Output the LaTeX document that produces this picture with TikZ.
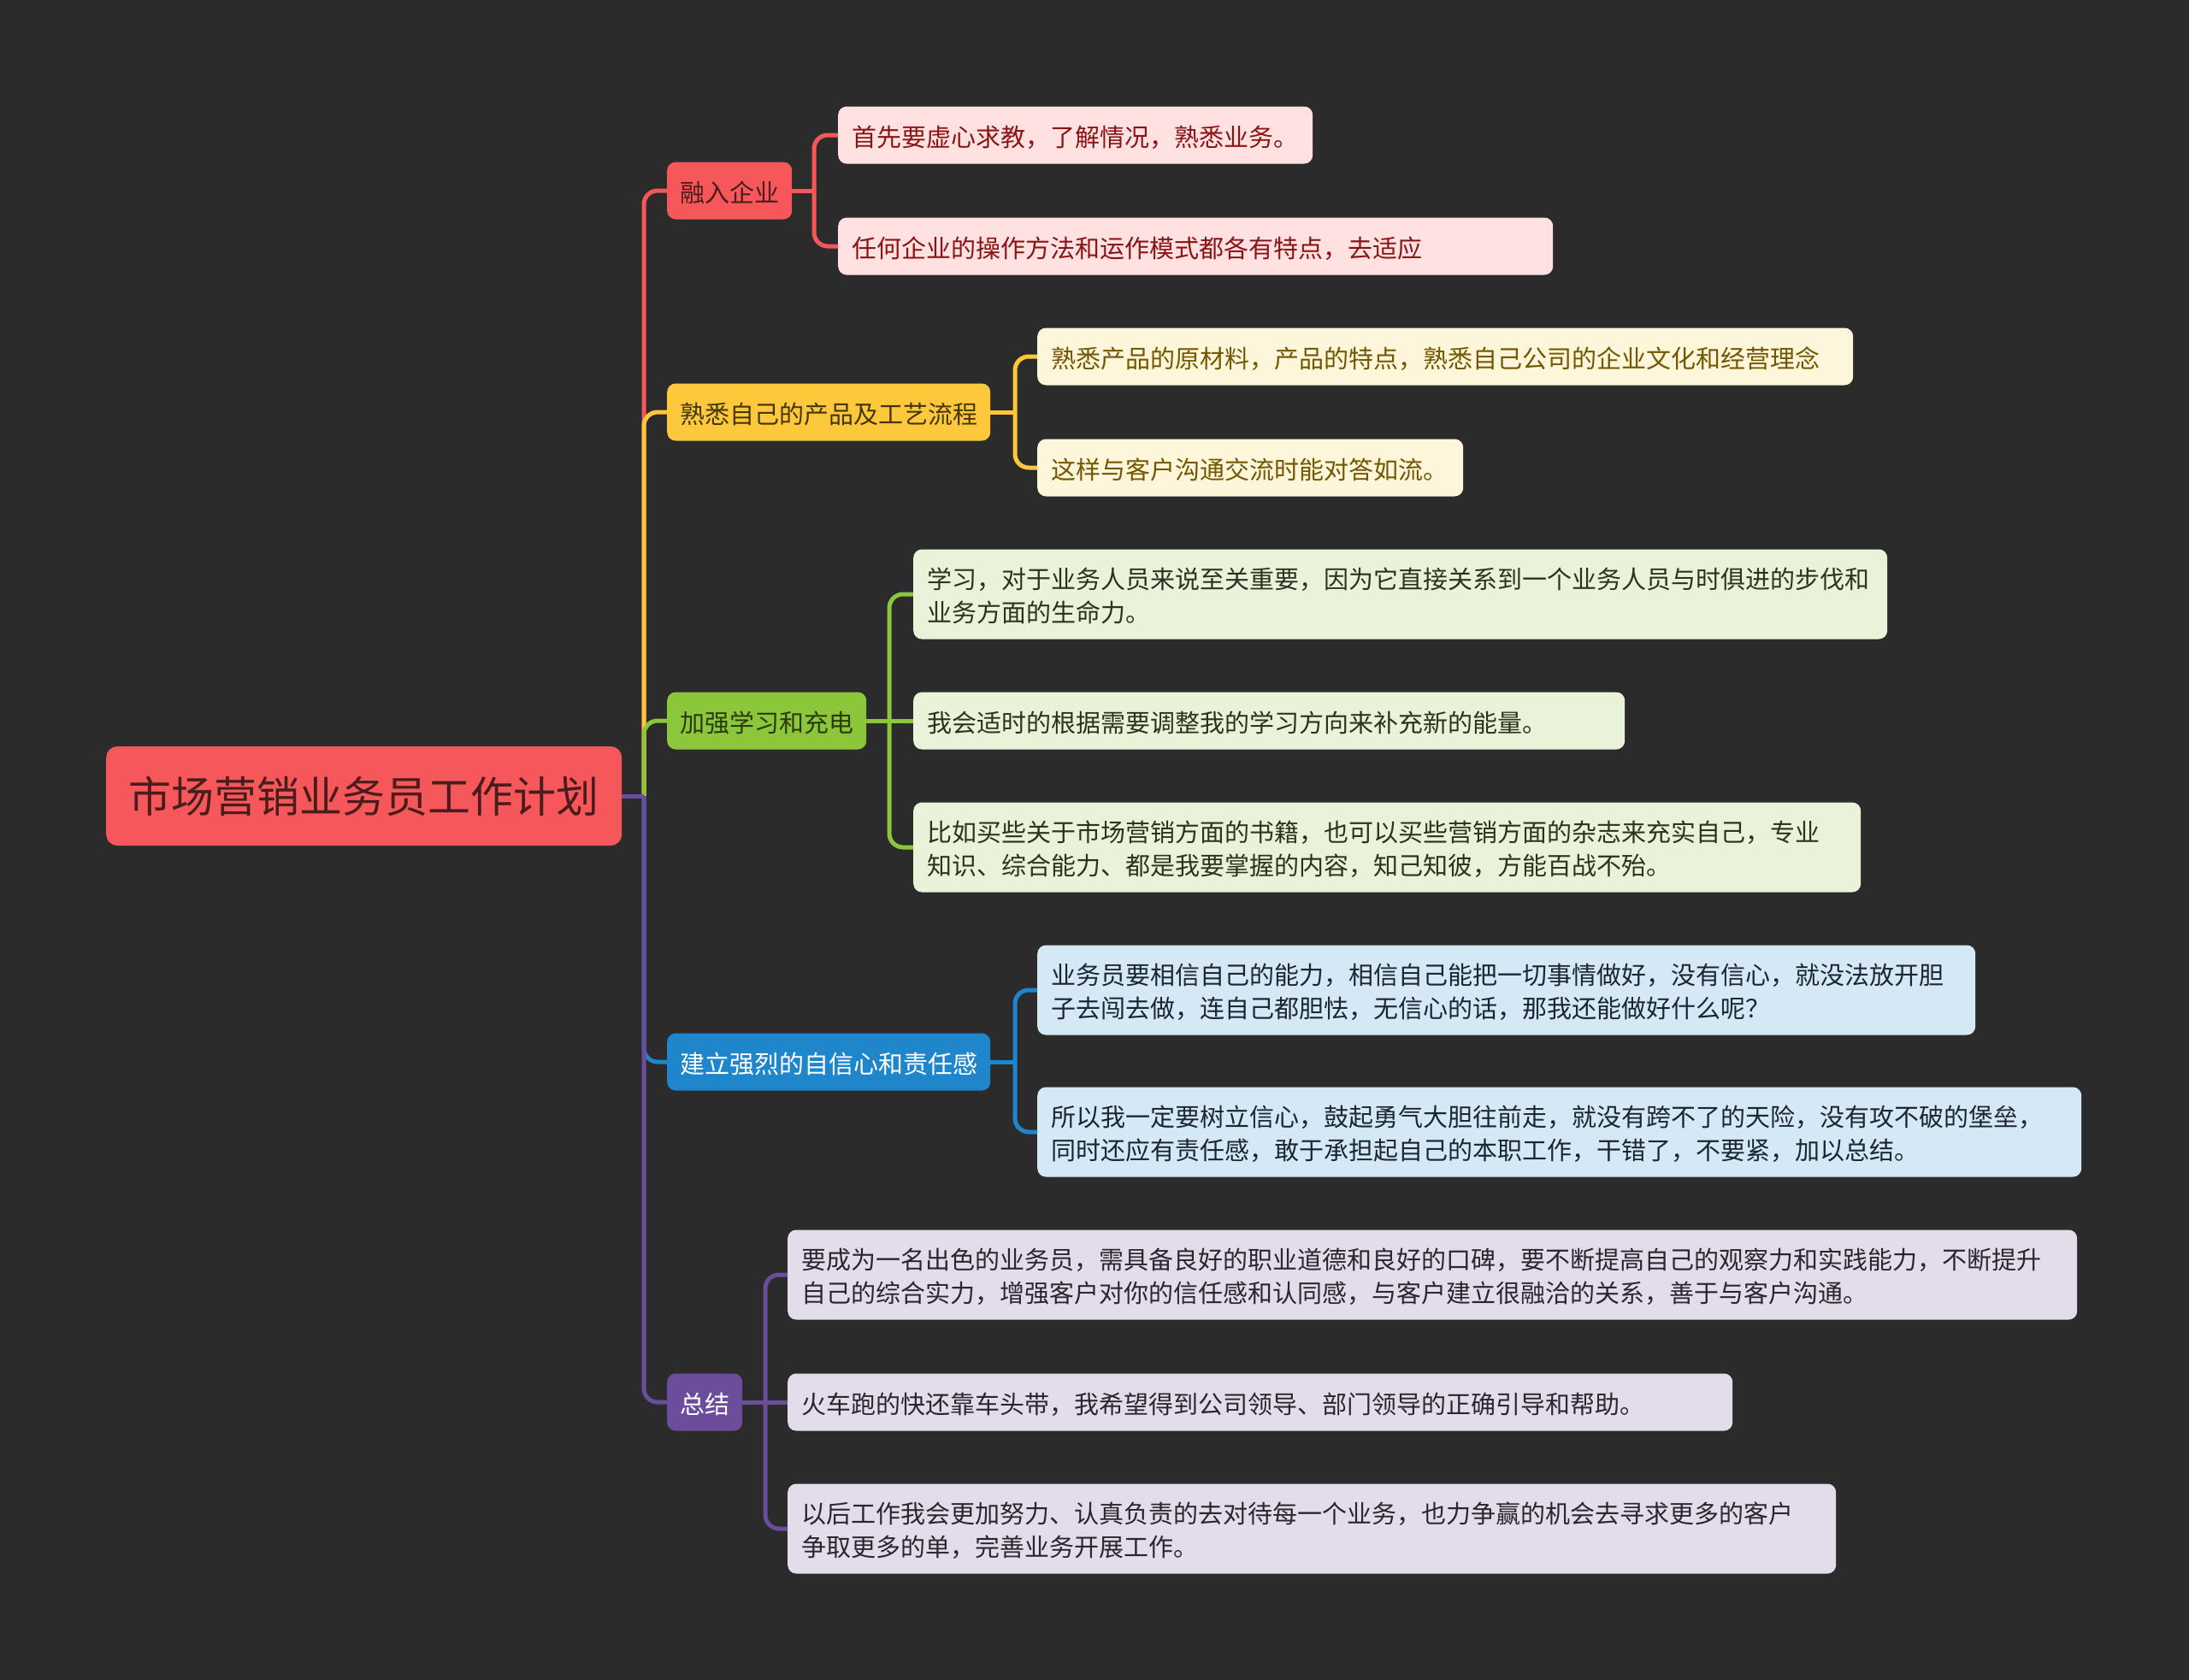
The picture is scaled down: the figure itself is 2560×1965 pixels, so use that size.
\documentclass[tikz,border=0pt]{standalone}
\usepackage{fontspec}
\setmainfont{Noto Sans CJK SC}
\definecolor{bg}{HTML}{2B2B2B}
\definecolor{cred}{HTML}{F6575B}
\definecolor{credtxt}{HTML}{4A1C1C}
\definecolor{lred}{HTML}{FFE1E1}
\definecolor{lredtxt}{HTML}{8A1414}
\definecolor{cyel}{HTML}{FDC83C}
\definecolor{cyeltxt}{HTML}{45360A}
\definecolor{lyel}{HTML}{FEF6DA}
\definecolor{lyeltxt}{HTML}{735700}
\definecolor{cgrn}{HTML}{8CC63A}
\definecolor{cgrntxt}{HTML}{2A3A0E}
\definecolor{lgrn}{HTML}{EAF3D9}
\definecolor{lgrntxt}{HTML}{2A3320}
\definecolor{cblu}{HTML}{1F86CC}
\definecolor{lblu}{HTML}{D4E8F5}
\definecolor{lblutxt}{HTML}{1C2630}
\definecolor{cpur}{HTML}{6B4D9B}
\definecolor{lpur}{HTML}{E3DDEB}
\definecolor{lpurtxt}{HTML}{2A2530}
\tikzset{
  rootbox/.style={anchor=west, fill=cred, text=credtxt, rounded corners=13pt,
    minimum width=603pt, minimum height=116pt, inner sep=0pt,
    font=\fontsize{50}{60}\selectfont},
  branchbox/.style={anchor=west, rounded corners=10pt, inner xsep=15pt, inner ysep=0pt,
    minimum height=67pt, text height=27pt, text depth=0pt,
    font=\fontsize{29}{39}\selectfont},
  leafbox/.style={anchor=west, rounded corners=10pt, inner xsep=16pt, inner ysep=0pt,
    align=left, minimum height=67pt, text height=27pt, text depth=0pt,
    font=\fontsize{29}{39}\selectfont},
  twoline/.style={minimum height=105pt, text height=20pt, text depth=34pt},
  conn/.style={line width=5pt, rounded corners=16pt},
}
\begin{document}
\begin{tikzpicture}[x=1pt,y=-1pt]
\path[fill=bg] (0,0) rectangle (2560,1965);
\useasboundingbox (0,0) rectangle (2560,1965);

% root
\node[rootbox] (root) at (124,931) {市场营销业务员工作计划};

% branches
\node[branchbox, fill=cred, text=credtxt] (b1) at (780,223) {融入企业};
\node[branchbox, fill=cyel, text=cyeltxt] (b2) at (780,482) {熟悉自己的产品及工艺流程};
\node[branchbox, fill=cgrn, text=cgrntxt] (b3) at (780,843) {加强学习和充电};
\node[branchbox, fill=cblu, text=white] (b4) at (780,1242) {建立强烈的自信心和责任感};
\node[branchbox, fill=cpur, text=white] (b5) at (780,1640) {总结};

% leaves
\node[leafbox, fill=lred, text=lredtxt, text width=523pt] (l11) at (980,158) {首先要虚心求教，了解情况，熟悉业务。};
\node[leafbox, fill=lred, text=lredtxt, text width=804pt] (l12) at (980,288) {任何企业的操作方法和运作模式都各有特点，去适应};

\node[leafbox, fill=lyel, text=lyeltxt, text width=922pt] (l21) at (1213,417) {熟悉产品的原材料，产品的特点，熟悉自己公司的企业文化和经营理念};
\node[leafbox, fill=lyel, text=lyeltxt, text width=466pt] (l22) at (1213,547) {这样与客户沟通交流时能对答如流。};

\node[leafbox, twoline, fill=lgrn, text=lgrntxt, text width=1107pt] (l31) at (1068,695) {学习，对于业务人员来说至关重要，因为它直接关系到一个业务人员与时俱进的步伐和\\业务方面的生命力。};
\node[leafbox, fill=lgrn, text=lgrntxt, text width=800pt] (l32) at (1068,843) {我会适时的根据需要调整我的学习方向来补充新的能量。};
\node[leafbox, twoline, fill=lgrn, text=lgrntxt, text width=1076pt] (l33) at (1068,991) {比如买些关于市场营销方面的书籍，也可以买些营销方面的杂志来充实自己，专业\\知识、综合能力、都是我要掌握的内容，知己知彼，方能百战不殆。};

\node[leafbox, twoline, fill=lblu, text=lblutxt, text width=1065pt] (l41) at (1213,1158) {业务员要相信自己的能力，相信自己能把一切事情做好，没有信心，就没法放开胆\\子去闯去做，连自己都胆怯，无信心的话，那我还能做好什么呢？};
\node[leafbox, twoline, fill=lblu, text=lblutxt, text width=1189pt] (l42) at (1213,1324) {所以我一定要树立信心，鼓起勇气大胆往前走，就没有跨不了的天险，没有攻不破的堡垒，\\同时还应有责任感，敢于承担起自己的本职工作，干错了，不要紧，加以总结。};

\node[leafbox, twoline, fill=lpur, text=lpurtxt, text width=1476pt] (l51) at (921,1491) {要成为一名出色的业务员，需具备良好的职业道德和良好的口碑，要不断提高自己的观察力和实践能力，不断提升\\自己的综合实力，增强客户对你的信任感和认同感，与客户建立很融洽的关系，善于与客户沟通。};
\node[leafbox, fill=lpur, text=lpurtxt, text width=1073pt] (l52) at (921,1640) {火车跑的快还靠车头带，我希望得到公司领导、部门领导的正确引导和帮助。};
\node[leafbox, twoline, fill=lpur, text=lpurtxt, text width=1194pt] (l53) at (921,1788) {以后工作我会更加努力、认真负责的去对待每一个业务，也力争赢的机会去寻求更多的客户\\争取更多的单，完善业务开展工作。};

% junction coordinates
\coordinate (tr) at (753,931);
\coordinate (j1) at (952,223);
\coordinate (j2) at (1187,482);
\coordinate (j3) at (1040,843);
\coordinate (j4) at (1187,1242);
\coordinate (j5) at (895,1640);

% root to branches (later ones drawn on top)
\draw[conn, draw=cred] (root.east) -- (tr);
\draw[conn, draw=cred] (tr) |- (b1.west);
\draw[conn, draw=cyel] (tr) |- (b2.west);
\draw[conn, draw=cgrn] (tr) |- (b3.west);
\draw[conn, draw=cblu] (tr) |- (b4.west);
\draw[conn, draw=cpur] (root.east) -- (tr);
\draw[conn, draw=cpur] (tr) |- (b5.west);

% branches to leaves
\draw[conn, draw=cred] (b1.east) -- (j1);
\draw[conn, draw=cred] (j1) |- (l11.west);
\draw[conn, draw=cred] (j1) |- (l12.west);

\draw[conn, draw=cyel] (b2.east) -- (j2);
\draw[conn, draw=cyel] (j2) |- (l21.west);
\draw[conn, draw=cyel] (j2) |- (l22.west);

\draw[conn, draw=cgrn] (b3.east) -- (j3);
\draw[conn, draw=cgrn] (j3) |- (l31.west);
\draw[conn, draw=cgrn] (j3) -- (l32.west);
\draw[conn, draw=cgrn] (j3) |- (l33.west);

\draw[conn, draw=cblu] (b4.east) -- (j4);
\draw[conn, draw=cblu] (j4) |- (l41.west);
\draw[conn, draw=cblu] (j4) |- (l42.west);

\draw[conn, draw=cpur] (b5.east) -- (j5);
\draw[conn, draw=cpur] (j5) |- (l51.west);
\draw[conn, draw=cpur] (j5) -- (l52.west);
\draw[conn, draw=cpur] (j5) |- (l53.west);
\end{tikzpicture}
\end{document}
